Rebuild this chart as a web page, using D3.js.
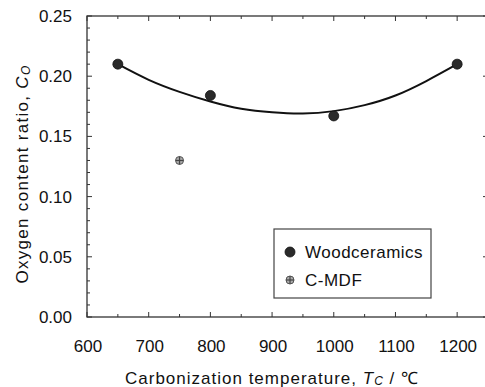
<!DOCTYPE html>
<html><head><meta charset="utf-8">
<script src="https://cdn.jsdelivr.net/npm/d3@7"></script>
<style>
html,body{margin:0;padding:0;background:#fff;}
svg{display:block;font-family:"Liberation Sans",Arial,sans-serif;}
</style></head>
<body><svg id="c" width="485" height="387"></svg>
<script>
// Data
const woodT = [650, 800, 1000, 1200];
const woodC = [0.210, 0.184, 0.167, 0.210];
const mdfT = [750];
const mdfC = [0.130];
// fitted curve
const fitT = [650, 700, 750, 800, 850, 900, 950, 1000, 1050, 1100, 1150, 1200];
const fitC = [0.210, 0.197, 0.187, 0.179, 0.173, 0.170, 0.169, 0.171, 0.176, 0.184, 0.196, 0.210];
const xTicks = [600, 700, 800, 900, 1000, 1100, 1200];
const yTicks = [0.00, 0.05, 0.10, 0.15, 0.20, 0.25];
const legendLabels = ["Woodceramics", "C-MDF"];

const svg = d3.select("#c");
const L = 87, R = 488, T = 16, B = 317;
const x = d3.scaleLinear().domain([600, 1250]).range([L, R]);
const y = d3.scaleLinear().domain([0, 0.25]).range([B, T]);
const axisCol = "#333";

// frame
const g = svg.append("g");
g.append("rect").attr("x", L).attr("y", T).attr("width", R - L).attr("height", B - T)
  .attr("fill", "none").attr("stroke", axisCol).attr("stroke-width", 1.3);

// ticks
const xMinor = d3.range(600, 1251, 50);
const yMinor = d3.range(0, 26, 1).map(d => d / 100);
xMinor.forEach(v => {
  const major = v % 100 === 0;
  const len = major ? 5 : 3;
  g.append("line").attr("x1", x(v)).attr("x2", x(v)).attr("y1", B).attr("y2", B - len).attr("stroke", axisCol).attr("stroke-width", 1);
  g.append("line").attr("x1", x(v)).attr("x2", x(v)).attr("y1", T).attr("y2", T + len).attr("stroke", axisCol).attr("stroke-width", 1);
});
yMinor.forEach((v, i) => {
  const major = i % 5 === 0;
  const len = major ? 5 : 3;
  g.append("line").attr("x1", L).attr("x2", L + len).attr("y1", y(v)).attr("y2", y(v)).attr("stroke", axisCol).attr("stroke-width", 1);
  g.append("line").attr("x1", R).attr("x2", R - len).attr("y1", y(v)).attr("y2", y(v)).attr("stroke", axisCol).attr("stroke-width", 1);
});

// tick labels
g.selectAll(".xl").data(xTicks).enter().append("text")
  .attr("x", d => x(d) + 1).attr("y", 352).attr("text-anchor", "middle")
  .attr("font-size", 17).attr("fill", "#111").text(d => d);
g.selectAll(".yl").data(yTicks).enter().append("text")
  .attr("x", 72).attr("y", d => y(d) + 6).attr("text-anchor", "end")
  .attr("font-size", 17).attr("fill", "#111").text(d => d.toFixed(2));

// axis titles
const xt = svg.append("text").attr("x", 272).attr("y", 384).attr("text-anchor", "middle")
  .attr("font-size", 17).attr("letter-spacing", 1).attr("fill", "#111");
xt.append("tspan").text("Carbonization temperature, ");
xt.append("tspan").attr("font-style", "italic").text("T");
xt.append("tspan").attr("font-style", "italic").attr("font-size", 12).attr("dy", 1).text("C");
xt.append("tspan").attr("dy", -1).text(" / \u2103");

const yt = svg.append("text").attr("transform", "translate(28,174) rotate(-90)")
  .attr("text-anchor", "middle").attr("font-size", 17).attr("letter-spacing", 1.3).attr("fill", "#111");
yt.append("tspan").text("Oxygen content ratio, ");
yt.append("tspan").attr("font-style", "italic").text("C");
yt.append("tspan").attr("font-style", "italic").attr("font-size", 12).attr("dy", 2).text("O");

// fitted curve
const line = d3.line().x(d => x(d[0])).y(d => y(d[1])).curve(d3.curveNatural);
svg.append("path").datum(fitT.map((t, i) => [t, fitC[i]]))
  .attr("d", line).attr("fill", "none").attr("stroke", "#111").attr("stroke-width", 2);

// markers
function woodMarker(sel, cx, cy) {
  sel.append("circle").attr("cx", cx).attr("cy", cy).attr("r", 5)
    .attr("fill", "#2a2a2a").attr("stroke", "#111").attr("stroke-width", 0.8);
}
function mdfMarker(sel, cx, cy) {
  sel.append("circle").attr("cx", cx).attr("cy", cy).attr("r", 4)
    .attr("fill", "#aaa").attr("stroke", "#555").attr("stroke-width", 1);
  sel.append("line").attr("x1", cx - 4).attr("x2", cx + 4).attr("y1", cy).attr("y2", cy).attr("stroke", "#444").attr("stroke-width", 1.2);
  sel.append("line").attr("x1", cx).attr("x2", cx).attr("y1", cy - 4).attr("y2", cy + 4).attr("stroke", "#444").attr("stroke-width", 1.2);
}
woodT.forEach((t, i) => woodMarker(svg, x(t), y(woodC[i])));
mdfT.forEach((t, i) => mdfMarker(svg, x(t), y(mdfC[i])));

// legend
const lg = svg.append("g");
lg.append("rect").attr("x", 274).attr("y", 229).attr("width", 157).attr("height", 69)
  .attr("fill", "#fff").attr("stroke", "#444").attr("stroke-width", 1.2);
woodMarker(lg, 290, 252);
lg.append("text").attr("x", 305).attr("y", 258).attr("font-size", 17).attr("letter-spacing", 0.5).attr("fill", "#111").text(legendLabels[0]);
mdfMarker(lg, 290, 280);
lg.append("text").attr("x", 305).attr("y", 286).attr("font-size", 17).attr("letter-spacing", 0.5).attr("fill", "#111").text(legendLabels[1]);
</script></body></html>
